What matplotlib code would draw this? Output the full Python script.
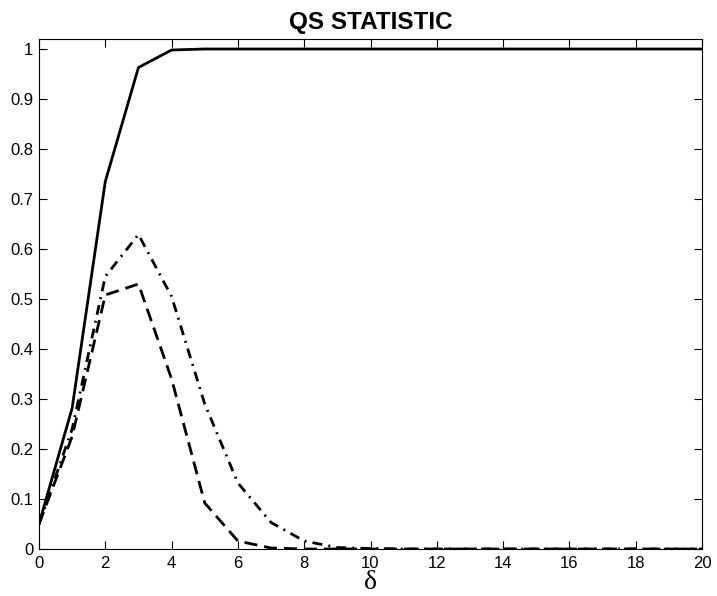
import matplotlib
matplotlib.use("Agg")
import matplotlib.pyplot as plt
import numpy as np

# power of the QS test against the shift delta
delta = np.arange(0, 21)
power_solid = [0.05, 0.282, 0.735, 0.963, 0.998, 1.0, 1.0, 1.0, 1.0, 1.0, 1.0,
               1.0, 1.0, 1.0, 1.0, 1.0, 1.0, 1.0, 1.0, 1.0, 1.0]
power_dashdot = [0.05, 0.24, 0.545, 0.629, 0.505, 0.29, 0.132, 0.053, 0.016, 0.003, 0.001,
                 0.0, 0.0, 0.0, 0.0, 0.0, 0.0, 0.0, 0.0, 0.0, 0.0]
power_dashed = [0.05, 0.225, 0.508, 0.53, 0.34, 0.092, 0.016, 0.002, 0.0, 0.0, 0.0,
                0.0, 0.0, 0.0, 0.0, 0.0, 0.0, 0.0, 0.0, 0.0, 0.0]

xticks = np.arange(0, 21, 2)
yticks = np.round(np.arange(0, 1.01, 0.1), 1)
yticklabels = ["0" if v == 0 else ("1" if v == 1 else f"{v:g}") for v in yticks]

plt.rcParams['font.family'] = ['Liberation Sans', 'DejaVu Sans']

fig = plt.figure(figsize=(7.17, 5.96), dpi=100)
ax = fig.add_axes([39 / 717, 47 / 596, 663 / 717, 510 / 596])

ax.plot(delta, power_solid, color='black', linewidth=2, linestyle='-')
ax.plot(delta, power_dashdot, color='black', linewidth=2, linestyle=(0, (3.6, 2.2, 0.7, 2.2)))
ax.plot(delta, power_dashed, color='black', linewidth=2, linestyle=(0, (4.7, 2.5)))

ax.set_xlim(0, 20)
ax.set_ylim(0, 1.02)
ax.set_xticks(xticks)
ax.set_xticklabels([str(v) for v in xticks])
ax.set_yticks(yticks)
ax.set_yticklabels(yticklabels)
ax.tick_params(direction='in', length=6, width=0.8, top=True, right=True,
               labelsize=12, pad=4)
ax.tick_params(axis='x', pad=5)
for s in ax.spines.values():
    s.set_linewidth(0.8)

ax.set_title("QS STATISTIC", fontsize=17.5, fontweight='bold', pad=7)
ax.set_xlabel(r"δ", fontsize=20, family=['Liberation Serif', 'DejaVu Serif'], labelpad=-1)

fig.savefig("out.png", dpi=100)
